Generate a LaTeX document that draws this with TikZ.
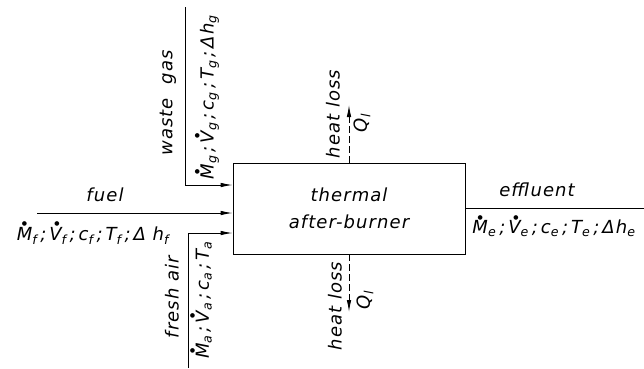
\documentclass[tikz,border=0pt]{standalone}
\usepackage{amsmath}
\usepackage{fontspec}
\setmainfont{DejaVu Sans}[LetterSpace=6]
\usetikzlibrary{arrows.meta}
\newcommand{\dq}[2]{\textit{\rlap{\hspace{0.28em}\raisebox{0.82em}{\fontsize{6}{6}\selectfont ●}}#1}$_{\text{\textit{#2}}}$}
\newcommand{\sq}[2]{\textit{#1}$_{\text{\textit{#2}}}$}
\tikzset{
  flow/.style={line width=0.9pt, -{Latex[length=12pt,width=4.5pt]}},
  loss/.style={flow, dash pattern=on 7pt off 3pt},
  lbl/.style={font=\fontsize{18}{27}\selectfont\itshape, inner sep=1pt},
  vlbl/.style={lbl, rotate=90}
}
\begin{document}
\begin{tikzpicture}[x=1pt,y=-1pt]
            \useasboundingbox (0,0) rectangle (644,368);
            \node[draw, line width=0.9pt, minimum width=232pt, minimum height=91pt, align=center, lbl] (burner) at (349,208.5) {thermal\\after-burner};
            \coordinate (gas) at (185,7);
            \coordinate (fuel) at (37,213);
            \coordinate (air) at (188,368);
            \coordinate (eff) at (644,208.5);
            \coordinate (up) at (349,105);
            \coordinate (down) at (349,312);
            \draw[flow] (gas) |- ([yshift=23.5pt]burner.west);
            \draw[flow] (fuel) -- ([yshift=-4.5pt]burner.west);
            \draw[flow] (air) |- ([yshift=-24.5pt]burner.west);
            \draw[line width=0.9pt] (burner.east) -- (eff);
            \draw[loss] (burner.north) -- (up);
            \draw[loss] (burner.south) -- (down);
            \node[vlbl] (gasname) at (168,103) {waste\ \ gas};
            \node[vlbl] (gasdata) at (207,97) {\dq{M}{g}\,;\,\dq{V}{g}\,;\,\sq{c}{g}\,;\,\sq{T}{g}\,;\,\textit{Δh}$_{\text{\textit{g}}}$};
            \node[lbl] (fuelname) at (105,195) {fuel};
            \node[lbl] (fueldata) at (93,233) {\dq{M}{f}\,;\,\dq{V}{f}\,;\,\sq{c}{f}\,;\,\sq{T}{f}\,;\,\textit{Δ h}$_{\text{\textit{f}}}$};
            \node[vlbl] (airname) at (172,297) {fresh air};
            \node[vlbl] (airdata) at (201,300) {\dq{M}{a}\,;\,\dq{V}{a}\,;\,\sq{c}{a}\,;\,\sq{T}{a}};
            \node[lbl] (effname) at (537,190) {effluent};
            \node[lbl] (effdata) at (554,226) {\dq{M}{e}\,;\,\dq{V}{e}\,;\,\sq{c}{e}\,;\,\sq{T}{e}\,;\,\textit{Δh}$_{\text{\textit{e}}}$};
            \node[vlbl] (uploss) at (333,114) {heat loss};
            \node[vlbl] (upq) at (362,123) {\sq{Q}{l}};
            \node[vlbl] (downloss) at (335,306) {heat loss};
            \node[vlbl] (downq) at (365,300) {\sq{Q}{l}};
        \end{tikzpicture}
\end{document}
